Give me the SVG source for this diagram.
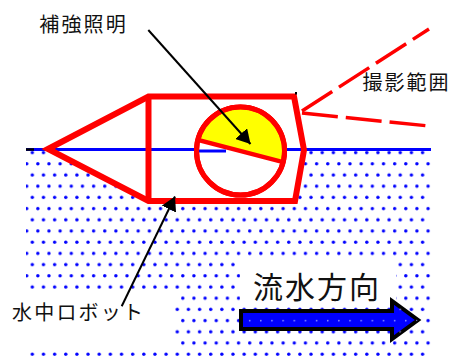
<svg xmlns="http://www.w3.org/2000/svg" width="452" height="356" viewBox="0 0 452 356">
  <style>
    .label { font-family: "Noto Sans CJK JP", "Noto Sans", sans-serif; fill: #111; }
    .small { font-size: 20px; letter-spacing: 2.2px; }
    .big { font-size: 30px; letter-spacing: 2px; }
    .hull { fill: #fff; stroke: #f00; stroke-width: 6; stroke-linejoin: miter; }
    .red { fill: none; stroke: #f00; }
    .view { fill: none; stroke: #f00; stroke-width: 3.5; stroke-dasharray: 36 8; }
    .pointer { fill: none; stroke: #000; stroke-width: 2; marker-end: url(#head); }
  </style>
  <defs>
    <pattern id="water-dots" patternUnits="userSpaceOnUse" x="25" y="146.5" width="11.15" height="22.4">
      <circle cx="7.3" cy="6.2" r="1.7" fill="#00f"/>
      <circle cx="1.7" cy="17.4" r="1.7" fill="#00f"/>
    </pattern>
    <pattern id="specks" patternUnits="userSpaceOnUse" x="25" y="146.5" width="11.15" height="22.4">
      <circle cx="7.3" cy="6.2" r="0.8" fill="#aab0ff"/>
      <circle cx="1.7" cy="17.4" r="0.8" fill="#aab0ff"/>
    </pattern>
    <marker id="head" viewBox="0 0 14 16" refX="14" refY="8" markerWidth="14" markerHeight="16" markerUnits="userSpaceOnUse" orient="auto">
      <path d="M0,0 L14,8 L0,16 Z" fill="#000"/>
    </marker>
    <clipPath id="flow-clip">
      <polygon points="241,311 392,311 392,301 418,320 392,339 392,329 241,329"/>
    </clipPath>
  </defs>

  <!-- water body: dotted area below the surface line, with clear patches for labels -->
  <g id="water">
    <rect x="26" y="151" width="405" height="205" fill="url(#water-dots)"/>
    <rect x="0" y="291" width="175" height="58" fill="#fff"/>
    <rect x="240" y="259" width="156" height="43" fill="#fff"/>
  </g>

  <!-- robot hull (white fill hides the water dots) -->
  <g id="robot">
    <polygon class="hull" points="48,149 148.5,96.5 294,96.5 304,150 295,201 148.5,201" style="stroke:none"/>
    <!-- water surface line -->
    <line x1="26" y1="149.5" x2="431" y2="149.5" stroke="#00f" stroke-width="3"/>
    <line x1="26" y1="149.5" x2="34" y2="149.5" stroke="#000" stroke-width="2.5"/>
    <polygon class="hull" points="48,149 148.5,96.5 294,96.5 304,150 295,201 148.5,201" style="fill:none"/>
    <line class="red" x1="148.5" y1="96.5" x2="148.5" y2="201" stroke-width="6"/>
    <rect x="295" y="92" width="2" height="2.5" fill="#000"/>
  </g>

  <!-- camera with lamp: half of the dome lit -->
  <g id="lamp">
    <circle cx="240.5" cy="151" r="44" fill="#fff" stroke="#f00" stroke-width="5"/>
    <line x1="198" y1="151" x2="226" y2="151" stroke="#00f" stroke-width="3"/>
    <path d="M197.9,139.9 A44,44 0 0 1 283.1,162.1 Z" fill="#ff0" stroke="#f00" stroke-width="4.5"/>
    <circle cx="240.5" cy="151" r="44" fill="none" stroke="#f00" stroke-width="5"/>
  </g>

  <!-- field of view of the camera -->
  <g id="camera-view">
    <line class="view" x1="302" y1="111" x2="429" y2="29"/>
    <line class="view" x1="302" y1="113" x2="429" y2="126"/>
  </g>

  <!-- flow direction arrow -->
  <g id="flow-arrow">
    <polygon points="241,311 392,311 392,301 418,320 392,339 392,329 241,329" fill="#00f" stroke="#000" stroke-width="4" stroke-linejoin="miter"/>
    <rect x="241" y="301" width="177" height="38" fill="url(#specks)" clip-path="url(#flow-clip)"/>
  </g>

  <!-- pointers from labels -->
  <g id="connectors">
    <line class="pointer" x1="148.3" y1="30" x2="250.5" y2="144"/>
    <line class="pointer" x1="121.7" y1="306.3" x2="175" y2="196.5"/>
  </g>

  <g id="label-lamp"><text class="label small" x="39.2" y="31.6">補強照明</text></g>
  <g id="label-camera"><text class="label small" x="362.5" y="90.3" style="letter-spacing:2px">撮影範囲</text></g>
  <g id="label-robot"><text class="label small" x="12" y="320.3">水中ロボット</text></g>
  <g id="label-flow"><text class="label big" x="253" y="297.6">流水方向</text></g>
</svg>
